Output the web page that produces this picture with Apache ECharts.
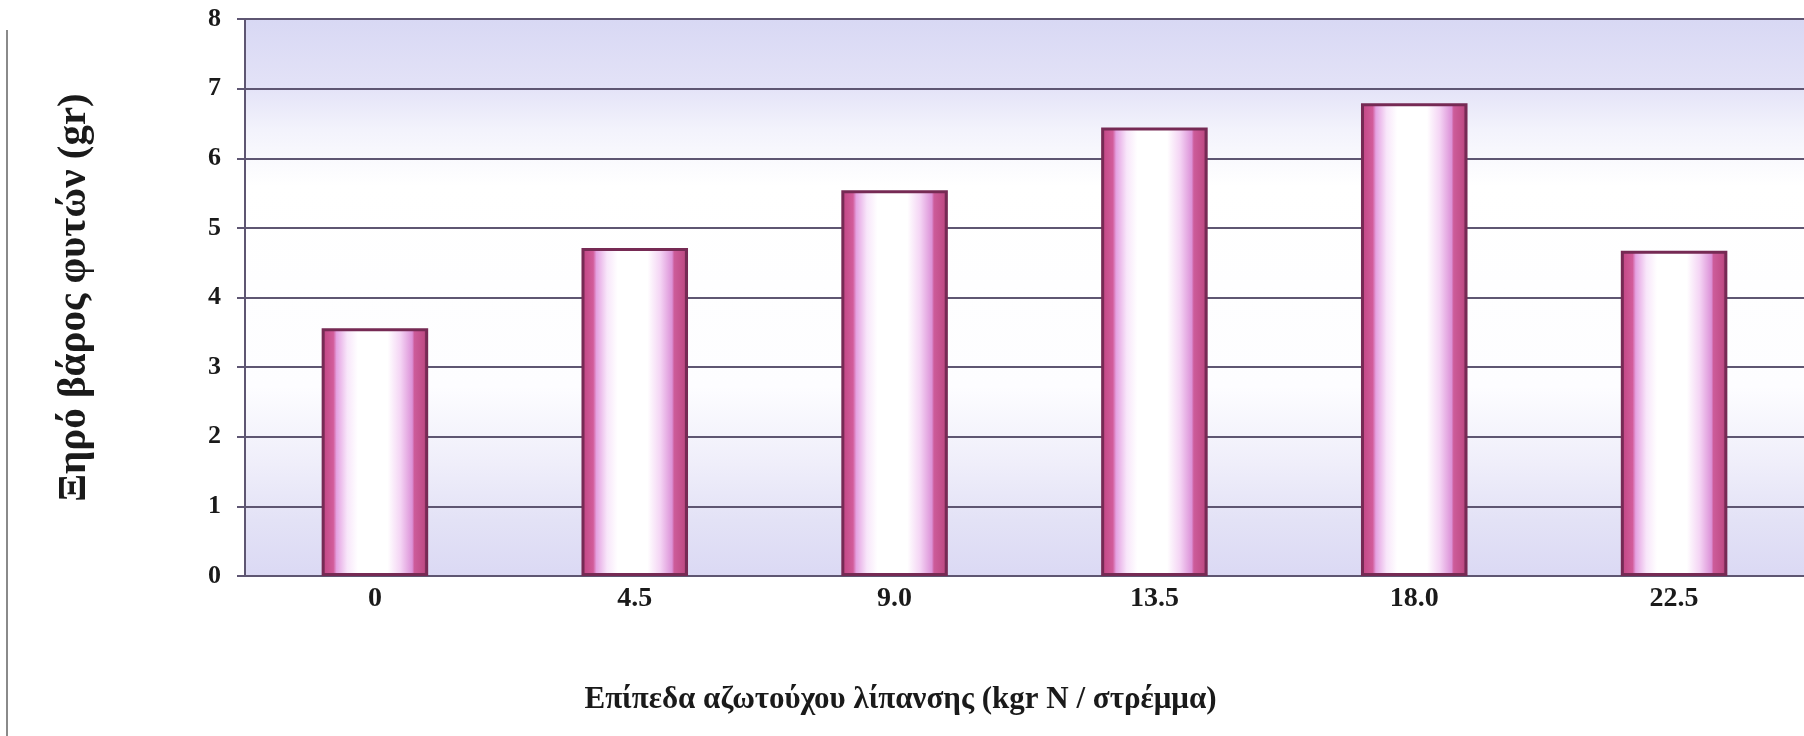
<!DOCTYPE html>
<html>
<head>
<meta charset="utf-8">
<script src="https://cdn.jsdelivr.net/npm/echarts@6/dist/echarts.min.js"></script>
<style>
  html, body { margin: 0; padding: 0; background: #ffffff; }
  #chart { width: 1804px; height: 736px; }
</style>
</head>
<body>
<div id="chart"></div>
<script>
// Nitrogen fertilisation levels (kgr N / stremma) and plant dry weight (gr)
const categories = ['0', '4.5', '9.0', '13.5', '18.0', '22.5'];
const dryWeight = [3.56, 4.71, 5.54, 6.44, 6.79, 4.67];
const yTicks = [0, 1, 2, 3, 4, 5, 6, 7, 8];

const xTitle = 'Επίπεδα αζωτούχου λίπανσης (kgr N / στρέμμα)';
const yTitle = 'Ξηρό βάρος φυτών (gr)';

const serif = '"Liberation Serif", "DejaVu Serif", serif';
const G = echarts.graphic;

const chart = echarts.init(document.getElementById('chart'), null, { renderer: 'canvas' });

// cylinder-like shading across each bar: pink rims, white core
const barFill = new G.LinearGradient(0, 0, 1, 0, [
  { offset: 0.00, color: '#96336a' },
  { offset: 0.03, color: '#c44a88' },
  { offset: 0.11, color: '#d25c9a' },
  { offset: 0.14, color: '#e4a2e2' },
  { offset: 0.24, color: '#f8e6fa' },
  { offset: 0.34, color: '#ffffff' },
  { offset: 0.62, color: '#ffffff' },
  { offset: 0.74, color: '#f4d4f4' },
  { offset: 0.85, color: '#dc92d8' },
  { offset: 0.87, color: '#cc5c9a' },
  { offset: 0.96, color: '#c04c86' },
  { offset: 1.00, color: '#8a3060' }
]);

const plotBg = new G.LinearGradient(0, 0, 0, 1, [
  { offset: 0.00, color: '#d8d8f4' },
  { offset: 0.12, color: '#e3e2f7' },
  { offset: 0.20, color: '#f3f3fc' },
  { offset: 0.30, color: '#ffffff' },
  { offset: 0.66, color: '#fdfdff' },
  { offset: 0.80, color: '#efeefa' },
  { offset: 0.90, color: '#e3e2f6' },
  { offset: 1.00, color: '#dbd9f4' }
]);

chart.setOption({
  animation: false,
  backgroundColor: '#ffffff',
  grid: {
    left: 245, right: -3, top: 19, bottom: 160,
    show: true, backgroundColor: plotBg, borderWidth: 0
  },
  xAxis: {
    type: 'category',
    data: categories,
    name: xTitle,
    nameLocation: 'middle',
    nameGap: 108,
    nameTextStyle: {
      fontFamily: serif, fontWeight: 'bold', fontSize: 31, color: '#1a1a1a',
      padding: [0, 248, 0, 0]
    },
    axisLine: { show: true, lineStyle: { color: '#5e5672', width: 2 } },
    axisTick: { show: false },
    axisLabel: {
      margin: 9, fontFamily: serif, fontWeight: 'bold', fontSize: 28, color: '#1a1a1a'
    }
  },
  yAxis: {
    type: 'value',
    min: yTicks[0],
    max: yTicks[yTicks.length - 1],
    interval: 1,
    name: yTitle,
    nameLocation: 'middle',
    nameGap: 150,
    nameRotate: 90,
    nameTextStyle: {
      fontFamily: serif, fontWeight: 'bold', fontSize: 41, color: '#1a1a1a'
    },
    axisLine: { show: true, lineStyle: { color: '#5e5672', width: 2 } },
    axisTick: { show: true, length: 8, lineStyle: { color: '#5e5672', width: 2 } },
    axisLabel: {
      margin: 24, fontFamily: serif, fontWeight: 'bold', fontSize: 26, color: '#1a1a1a'
    },
    splitLine: { show: true, lineStyle: { color: '#5e5672', width: 2 } }
  },
  series: [{
    type: 'bar',
    data: dryWeight,
    barWidth: '41%',
    itemStyle: {
      color: barFill,
      borderColor: '#762a54',
      borderWidth: 3
    }
  }],
  graphic: [{
    type: 'line',
    shape: { x1: 7, y1: 30, x2: 7, y2: 736 },
    style: { stroke: '#8a8a8a', lineWidth: 2 }
  }]
});
</script>
</body>
</html>
